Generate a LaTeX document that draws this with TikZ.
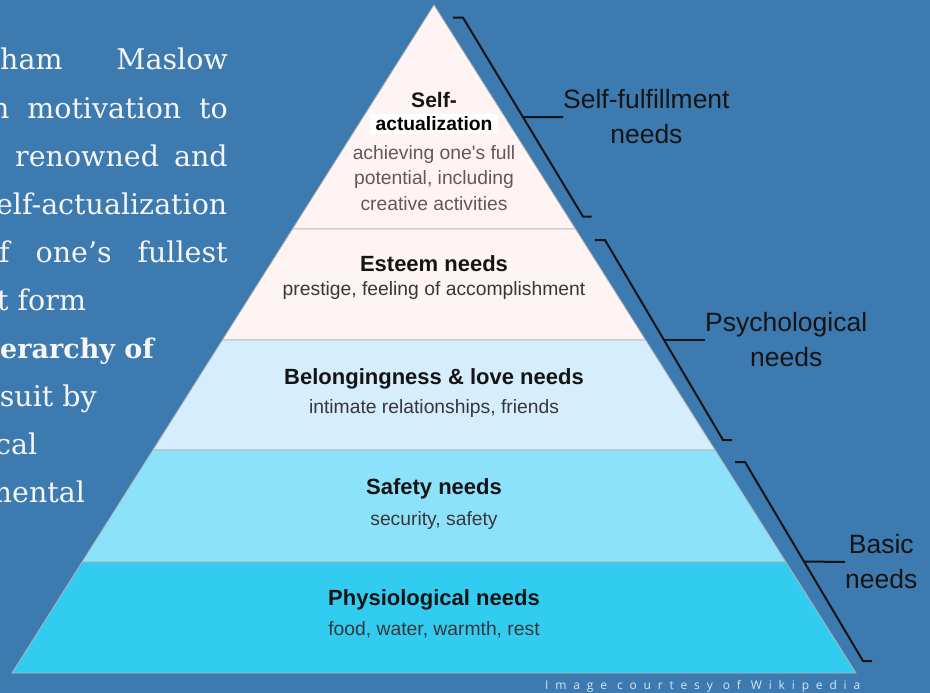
\documentclass[tikz,border=0pt]{standalone}
\usepackage{fontspec}
\usepackage{xcolor}
\usepackage{tikz}
\usetikzlibrary{positioning, calc}
\setmainfont{DejaVu Serif}
\newfontfamily\pyrfont{Liberation Sans}
\newfontfamily\creditfont[LetterSpace=57]{Open Sans}
\definecolor{slide}{RGB}{61, 122, 175}
\definecolor{topfill}{RGB}{255, 244, 244}
\definecolor{belongfill}{RGB}{213, 237, 252}
\definecolor{safetyfill}{RGB}{141, 226, 251}
\definecolor{physiofill}{RGB}{51, 204, 241}
\definecolor{ink}{RGB}{20, 20, 20}
\definecolor{mauve}{RGB}{105, 85, 88}
\definecolor{greytext}{RGB}{55, 55, 58}
\definecolor{prosewhite}{RGB}{246, 246, 246}
\definecolor{creditwhite}{RGB}{220, 230, 240}

\begin{document}
\begin{tikzpicture}[x=1pt, y=-1pt,
        layer/.style={draw=black!30, line width=0.8pt, fill=#1},
        title/.style={anchor=base, inner sep=0pt, text=ink, font=\pyrfont\bfseries\fontsize{22}{26}\selectfont},
        desc/.style={anchor=base, inner sep=0pt, text=greytext, font=\pyrfont\fontsize{19.3}{23}\selectfont},
        bracket/.style={draw=ink, line width=2pt},
        group/.style={inner sep=0pt, align=center, text=ink, font=\pyrfont\fontsize{26.5}{35}\selectfont},
        prose/.style={anchor=base west, inner sep=0pt, text=prosewhite, font=\fontsize{28.5}{34}\selectfont}
    ]
    \useasboundingbox (0,0) rectangle (930,693);
    \clip (0,0) rectangle (930,693);
    \fill[slide] (0,0) rectangle (930,693);

    % paragraph cut off at the left edge
    \node (p1) [prose] at (0,70) {\makebox[227.7pt][s]{ham Maslow}};
    \node (p2) [prose] at (-9,118) {\makebox[236.5pt][s]{n motivation to}};
    \node (p3) [prose] at (15,166) {\makebox[212.5pt][s]{renowned and}};
    \node (p4) [prose, anchor=base east] at (227.5,214) {elf-actualization};
    \node (p5) [prose] at (-1,262) {\makebox[228.5pt][s]{f one’s fullest}};
    \node (p6) [prose] at (-3,310) {t form};
    \node (p7) [prose, font=\bfseries\fontsize{27}{34}\selectfont] at (0,358) {erarchy of};
    \node (p8) [prose] at (-14,406) {rsuit by};
    \node (p9) [prose] at (-5,454) {cal};
    \node (p10) [prose] at (-15,502) {mental};

    % pyramid
    \coordinate (apex) at (434,5);
    \coordinate (l1) at (292.5,229); \coordinate (r1) at (575.5,229);
    \coordinate (l2) at (222.4,340); \coordinate (r2) at (645.6,340);
    \coordinate (l3) at (152.9,450); \coordinate (r3) at (715.1,450);
    \coordinate (l4) at (82.1,562);  \coordinate (r4) at (785.9,562);
    \coordinate (l5) at (12,673);    \coordinate (r5) at (856,673);

    \draw[layer=topfill] (apex) -- (r1) -- (l1) -- cycle;
    \draw[layer=topfill] (l1) -- (r1) -- (r2) -- (l2) -- cycle;
    \draw[layer=belongfill] (l2) -- (r2) -- (r3) -- (l3) -- cycle;
    \draw[layer=safetyfill] (l3) -- (r3) -- (r4) -- (l4) -- cycle;
    \draw[layer=physiofill] (l4) -- (r4) -- (r5) -- (l5) -- cycle;

    \node (selfA) [title, font=\pyrfont\bfseries\fontsize{21}{25}\selectfont] at (434,107.5) {Self-};
    \node (selfB) [title, text=black, fill=white, inner xsep=6pt, inner ysep=3pt, font=\pyrfont\bfseries\fontsize{19.3}{23}\selectfont] at (434,131) {actualization};
    \node (selfdesc1) [desc, text=mauve] at (434,159.3) {achieving one\textquotesingle s full};
    \node (selfdesc2) [desc, text=mauve] at (434,184.3) {potential, including};
    \node (selfdesc3) [desc, text=mauve] at (434,210) {creative activities};

    \node (esteem) [title] at (434,271) {Esteem needs};
    \node (esteemdesc) [desc] at (434,295.7) {prestige, feeling of accomplishment};
    \node (belong) [title] at (434,384) {Belongingness \& love needs};
    \node (belongdesc) [desc] at (434,413) {intimate relationships, friends};
    \node (safety) [title] at (434,494) {Safety needs};
    \node (safetydesc) [desc] at (434,525) {security, safety};
    \node (physio) [title] at (434,605) {Physiological needs};
    \node (physiodesc) [desc] at (434,635) {food, water, warmth, rest};

    % brackets on the right
    \coordinate (sftop) at (463,17.7);
    \coordinate (sfbot) at (583,216.6);
    \coordinate (sfend) at (563,117);
    \draw[bracket] (453,17.7) -- (sftop) -- (sfbot) -- (591.7,216.6);
    \node (sflabel) [group, right=0pt of sfend] {Self-fulfillment\\needs};
    \draw[bracket] ($(sftop)!0.5!(sfbot)$) -- (sflabel.west);

    \coordinate (pstop) at (605,240);
    \coordinate (psbot) at (723,440);
    \coordinate (psend) at (705,340);
    \draw[bracket] (595,240) -- (pstop) -- (psbot) -- (732,440);
    \node (pslabel) [group, right=0pt of psend] {Psychological\\needs};
    \draw[bracket] ($(pstop)!0.5!(psbot)$) -- (pslabel.west);

    \coordinate (bstop) at (745,462);
    \coordinate (bsbot) at (863,661);
    \coordinate (bsend) at (845,562);
    \draw[bracket] (735,462) -- (bstop) -- (bsbot) -- (872,661);
    \node (bslabel) [group, right=0pt of bsend] {Basic\\needs};
    \draw[bracket] ($(bstop)!0.5!(bsbot)$) -- (bslabel.west);

    \node (credit) [anchor=base west, inner sep=0pt, text=creditwhite, font=\creditfont\fontsize{12}{14}\selectfont] at (545,689) {Image courtesy of Wikipedia};
\end{tikzpicture}
\end{document}
